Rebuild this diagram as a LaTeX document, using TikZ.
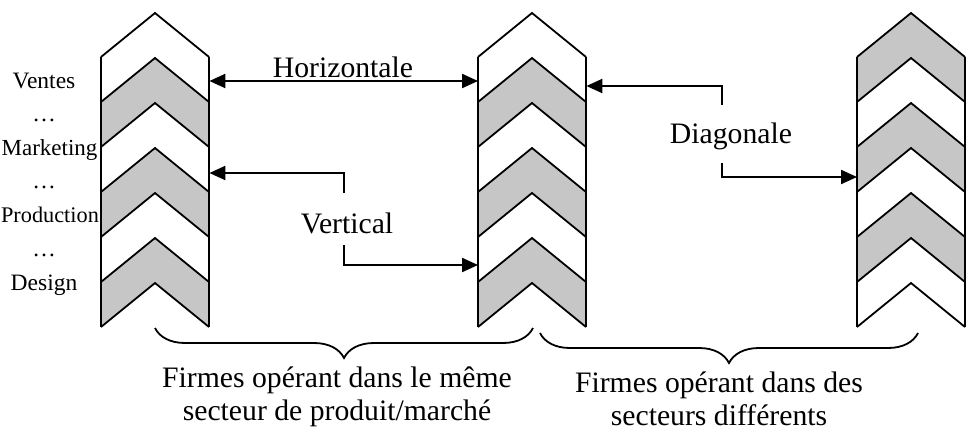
\documentclass[tikz,border=0pt]{standalone}
\usepackage{fontspec}
\setmainfont{Liberation Serif}
\usetikzlibrary{arrows.meta,decorations.pathreplacing}
\definecolor{chevgray}{RGB}{198,198,198}
\begin{document}
\begin{tikzpicture}[x=1pt,y=-1pt,
  chevline/.style={line width=1.8pt, line join=miter},
  conn/.style={line width=2.2pt, -{Triangle[length=16pt,width=14pt]}},
  big/.style={font=\fontsize{29.7}{33}\selectfont, inner sep=0pt, anchor=base},
  small/.style={font=\fontsize{23.5}{28}\selectfont, inner sep=0pt, anchor=base},
  bracestyle/.style={line width=1.8pt, decorate, decoration={brace, mirror, amplitude=30pt}}]
\useasboundingbox (0,0) rectangle (969,442);

% chevron columns
\foreach \L/\s [count=\c] in {101/0,478/0,857/1} {
  \pgfmathsetmacro\R{\L+108}
  \pgfmathsetmacro\X{\L+54}
  \foreach \k in {0,...,5} {
    \pgfmathsetmacro\ya{13+45*\k}
    \pgfmathsetmacro\yb{57+45*\k}
    \pgfmathsetmacro\yc{13+45*(\k+1)}
    \pgfmathsetmacro\yd{57+45*(\k+1)}
    \pgfmathtruncatemacro\g{mod(\k+\s,2)}
    \ifnum\g=1
      \fill[chevgray] (\L,\yb) -- (\X,\ya) -- (\R,\yb) -- (\R,\yd) -- (\X,\yc) -- (\L,\yd) -- cycle;
    \fi
  }
  \foreach \k in {0,...,6} {
    \pgfmathsetmacro\ya{13+45*\k}
    \pgfmathsetmacro\yb{57+45*\k}
    \draw[chevline] (\L,\yb) -- (\X,\ya) -- (\R,\yb);
  }
  \draw[chevline] (\L,57) -- (\L,327);
  \draw[chevline] (\R,57) -- (\R,327);
  \node[draw=none, minimum width=108pt, minimum height=314pt, inner sep=0pt, anchor=north west] (col\c) at (\L,13) {};
}

% left labels
\node[small] (ventes) at (44,88) {Ventes};
\node[small] (dots1) at (44,121) {…};
\node[small, font=\fontsize{23}{28}\selectfont] (marketing) at (49.5,155) {Marketing};
\node[small] (dots2) at (44,188) {…};
\node[small, font=\fontsize{22.3}{28}\selectfont] (production) at (50,222) {Production};
\node[small] (dots3) at (44,256) {…};
\node[small] (design) at (44,290) {Design};

% connectors
\coordinate (hy) at (0,81);
\coordinate (v1) at (344,173);
\coordinate (v1e) at (344,193);
\coordinate (v2) at (344,245);
\coordinate (v2e) at (344,265);
\coordinate (d1) at (722,86);
\coordinate (d1e) at (722,105);
\coordinate (d2) at (722,163);
\coordinate (d2e) at (722,177);

\draw[conn, {Triangle[length=16pt,width=14pt]}-{Triangle[length=16pt,width=14pt]}] (col1.east |- hy) -- (col2.west |- hy);
\draw[conn] (v1e) -- (v1) -- (col1.east |- v1);
\draw[conn] (v2) -- (v2e) -- (col2.west |- v2e);
\draw[conn] (d1e) -- (d1) -- (col2.east |- d1);
\draw[conn] (d2) -- (d2e) -- (col3.west |- d2e);

% connector labels
\node[big] (horiz) at (343,77) {Horizontale};
\node[big] (vert) at (347,233) {Vertical};
\node[big] (diag) at (731,143) {Diagonale};

% braces
\coordinate (b1a) at (155,328);
\coordinate (b1b) at (533,328);
\coordinate (b2a) at (540,333);
\coordinate (b2b) at (918,333);
\draw[bracestyle] (b1a) -- (b1b);
\draw[bracestyle] (b2a) -- (b2b);

% bottom texts
\node[big] (t1a) at (337,387) {Firmes opérant dans le même};
\node[big] (t1b) at (337,420) {secteur de produit/marché};
\node[big] (t2a) at (719,392) {Firmes opérant dans des};
\node[big] (t2b) at (719,425) {secteurs différents};
\end{tikzpicture}
\end{document}
